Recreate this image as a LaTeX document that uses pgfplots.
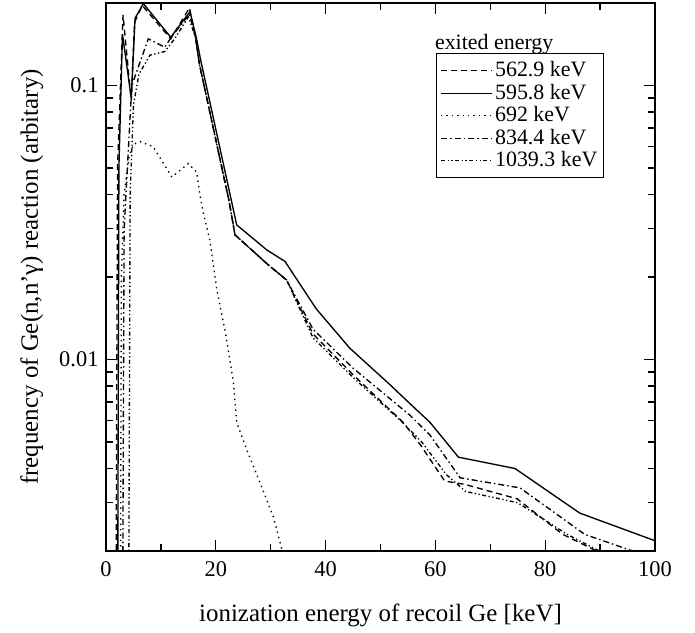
\documentclass[border=0pt]{standalone}
\usepackage{fontspec}
\setmainfont{Liberation Serif}
\usepackage{pgfplots}
\pgfplotsset{compat=1.18}
\begin{document}
\begin{tikzpicture}
\useasboundingbox (-106bp,-82bp) rectangle (589bp,551bp);
\begin{axis}[
  at={(0,0)}, anchor=south west,
  scale only axis, width=549bp, height=548bp,
  ymode=log, xmin=0, xmax=100, ymin=0.002, ymax=0.2,
  xtick={0,20,40,60,80,100}, minor xtick={10,30,50,70,90},
  ytick={0.01,0.1}, yticklabels={0.01,0.1},
  minor ytick={0.003,0.004,0.005,0.006,0.007,0.008,0.009,0.02,0.03,0.04,0.05,0.06,0.07,0.08,0.09},
  tick align=inside,
  major tick length=11bp, minor tick length=7bp,
  axis line style={line width=1.7bp},
  every tick/.style={black, line width=1.3bp},
  /pgf/number format/assume math mode=true,
  tick label style={font=\fontsize{22.5}{26}\selectfont},
  xticklabel style={yshift=-7bp},
  yticklabel style={xshift=-4bp},
  label style={font=\fontsize{25}{29}\selectfont},
  xlabel={ionization energy of recoil Ge [keV]},
  ylabel={frequency of Ge(n,n'γ) reaction (arbitary)},
  xlabel style={at={(axis description cs:0.5,-0.117)}, anchor=center},
  ylabel style={at={(axis description cs:-0.135,0.5)}, anchor=center},
  legend style={at={(axis description cs:0.9077,0.908)}, anchor=north east,
    draw=black, line width=0.9bp, font=\fontsize{22}{26}\selectfont,
    inner xsep=4bp, inner ysep=8bp, row sep=4.5bp,
    nodes={inner xsep=2.5bp, inner ysep=0bp, text height=15bp, text depth=3bp}},
  legend cell align=left,
  legend image code/.code={\draw[#1, line width=1.2bp] (0bp,0bp) -- (51bp,0bp);},
  every axis plot/.append style={black, line width=1.35bp, no marks},
]
\addplot[dash pattern=on 6bp off 4bp] coordinates {
(1.8,0.0008) (2.1,0.05) (3.1,0.181) (4.6,0.088) (5.2,0.17) (6.6,0.196) (11.8,0.148)
(15.2,0.192) (16.3,0.150) (17.0,0.120) (22.4,0.038) (23.5,0.0285) (29.6,0.0221)
(32.9,0.0195) (37.7,0.0124) (45.0,0.0088) (54.1,0.0059) (57.2,0.0049) (61.7,0.0036)
(65.4,0.0035) (74.9,0.0031) (83.2,0.0023) (90.5,0.00195)};
\addlegendentry{562.9 keV}
\addplot[solid] coordinates {
(2.1,0.0008) (2.35,0.05) (3.0,0.154) (4.6,0.090) (5.3,0.176) (6.8,0.199) (11.8,0.150)
(15.3,0.186) (16.5,0.148) (17.2,0.125) (22.6,0.040) (23.8,0.031) (29.3,0.0251)
(32.6,0.0228) (38.3,0.0153) (44.4,0.0110) (51.7,0.0081) (55.7,0.0068) (59.0,0.0059)
(64.2,0.0044) (74.5,0.0040) (86.3,0.00275) (100,0.00218)};
\addlegendentry{595.8 keV}
\addplot[dash pattern=on 1.4bp off 4bp] coordinates {
(2.6,0.0008) (2.8,0.02) (3.3,0.04) (4.2,0.055) (5.0,0.061) (6.2,0.0624) (8.6,0.0598)
(12.0,0.0463) (15.0,0.0519) (16.5,0.0483) (17.1,0.040) (17.7,0.0344) (18.9,0.0274)
(20.2,0.0179) (21.7,0.0127) (23.2,0.0083) (23.8,0.0059) (25.6,0.0047) (28.1,0.00353)
(30.5,0.00266) (32.4,0.0019)};
\addlegendentry{692 keV}
\addplot[dash pattern=on 6bp off 3bp on 1.5bp off 3bp] coordinates {
(3.0,0.0008) (3.3,0.03) (4.7,0.100) (7.7,0.148) (10.7,0.138) (12.0,0.151) (15.2,0.182)
(16.3,0.150) (17.0,0.120) (22.4,0.038) (23.5,0.0285) (29.6,0.0221) (32.9,0.0195)
(37.7,0.0129) (45.0,0.0093) (55.4,0.00625) (59.0,0.0053) (64.5,0.0037) (75.4,0.0034)
(87.2,0.0023) (97.5,0.00195)};
\addlegendentry{834.4 keV}
\addplot[dash pattern=on 4bp off 2.5bp on 1.3bp off 2.5bp on 1.3bp off 2.5bp] coordinates {
(4.1,0.0008) (4.4,0.04) (5.0,0.085) (6.0,0.110) (8.0,0.129) (10.7,0.133) (12.5,0.148)
(15.0,0.178) (16.3,0.150) (17.0,0.120) (22.4,0.038) (23.5,0.0285) (29.6,0.0221)
(32.9,0.0195) (37.7,0.0120) (45.0,0.0086) (54.0,0.0059) (57.5,0.0050) (62.0,0.0038)
(65.5,0.0033) (75.0,0.0030) (84.0,0.0023) (92.0,0.0019)};
\addlegendentry{1039.3 keV}
\node[anchor=base west, inner sep=0pt, font=\fontsize{22}{26}\selectfont] at (axis description cs:0.599,0.9155) {exited energy};
\end{axis}
\end{tikzpicture}
\end{document}
